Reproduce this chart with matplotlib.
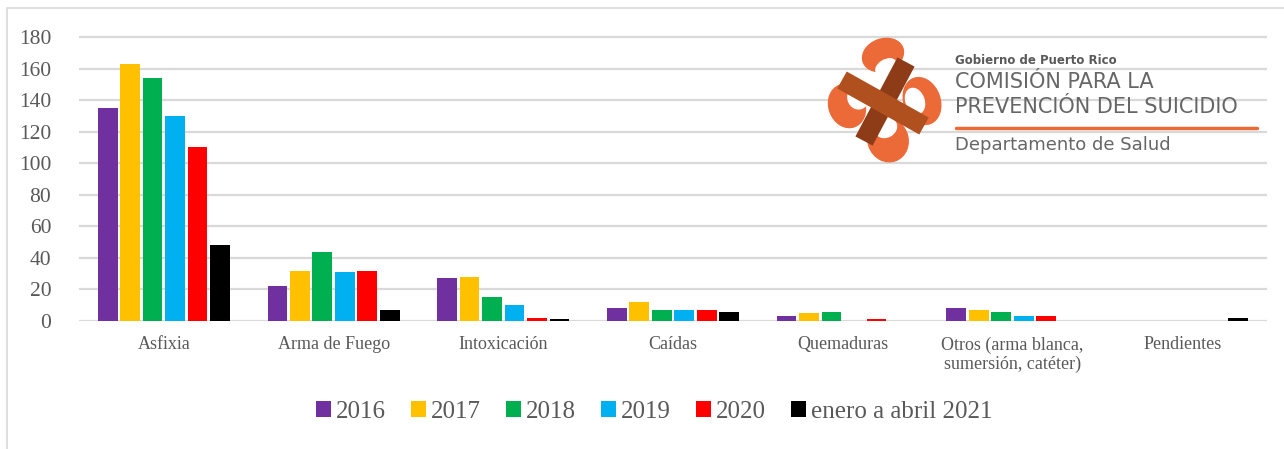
import matplotlib
matplotlib.use("Agg")
import numpy as np
import matplotlib.pyplot as plt
from matplotlib.patches import Ellipse
from matplotlib.lines import Line2D

# datos
categorias = ["Asfixia", "Arma de Fuego", "Intoxicación", "Caídas", "Quemaduras",
              "Otros (arma blanca,\nsumersión, catéter)", "Pendientes"]
series = ["2016", "2017", "2018", "2019", "2020", "enero a abril 2021"]
v2016 = [135, 22, 27, 8, 3, 8, 0]
v2017 = [163, 32, 28, 12, 5, 7, 0]
v2018 = [154, 44, 15, 7, 6, 6, 0]
v2019 = [130, 31, 10, 7, 0, 3, 0]
v2020 = [110, 32, 2, 7, 1, 3, 0]
v2021 = [48, 7, 1, 6, 0, 0, 2]
colores = ["#7030A0", "#FFC000", "#00B050", "#00B0F0", "#FF0000", "#000000"]

W, H = 1284, 449
fig = plt.figure(figsize=(W / 100, H / 100), dpi=100)
fig.patch.set_facecolor("white")

gris = "#595959"
serif = "Liberation Serif"

ax = fig.add_axes([79 / W, (H - 321) / H, 1188 / W, 287.2 / H])
x = np.arange(len(categorias))
paso, ancho = 0.1324, 0.116
for i, (vals, c, nombre) in enumerate(zip([v2016, v2017, v2018, v2019, v2020, v2021], colores, series)):
    ax.bar(x + (i - 2.5) * paso, vals, width=ancho, color=c, label=nombre, zorder=3)

ax.set_xlim(-0.5, 6.5)
ax.set_ylim(0, 182)
ax.set_yticks(range(0, 181, 20))
ax.grid(axis="y", color="#D9D9D9", lw=1.6, zorder=0)
ax.set_axisbelow(True)
for s in ax.spines.values():
    s.set_visible(False)
ax.set_xticks(x)
ax.set_xticklabels(categorias, fontsize=13, family=serif, color=gris, linespacing=1.15, va="top")
ax.tick_params(axis="both", length=0)
ax.tick_params(axis="x", pad=11)
ax.tick_params(axis="y", pad=20)
for t in ax.get_yticklabels():
    t.set_fontsize(15.5)
    t.set_family(serif)
    t.set_color(gris)

leg = ax.legend(loc="center", bbox_to_anchor=(654 / W, 37 / H), bbox_transform=fig.transFigure,
                ncol=6, frameon=False, handlelength=0.6, handleheight=0.6, handletextpad=0.2,
                columnspacing=1.0, prop={"family": serif, "size": 18})
for t in leg.get_texts():
    t.set_color(gris)

# borde del gráfico (solo arriba e izquierda, la imagen está recortada)
fig.lines.append(Line2D([7 / W, 7 / W, 1], [0, (H - 8) / H, (H - 8) / H],
                        transform=fig.transFigure, color="#D9D9D9", lw=1.2))

# logo
lx0, ly0, lw, lh = 820, 30, 450, 140
la = fig.add_axes([lx0 / W, (H - ly0 - lh) / H, lw / W, lh / H])
la.set_xlim(lx0, lx0 + lw)
la.set_ylim(ly0 + lh, ly0)
la.axis("off")
naranja = "#EB6A38"
petalos = [((883, 55), 42, 32, -20), ((922, 101), 36, 48, -20),
           ((888, 140), 40, 44, -20), ((847, 106), 36, 44, -20)]
for (cx, cy), w, h, ang in petalos:
    la.add_patch(Ellipse((cx, cy), w, h, angle=ang, color=naranja, zorder=1))
huecos = [((886, 67), 22, 14, -30), ((915, 101), 18, 26, -20),
          ((886, 128), 22, 18, -30), ((858, 98), 20, 22, -20)]
for (cx, cy), w, h, ang in huecos:
    la.add_patch(Ellipse((cx, cy), w, h, angle=ang, color="white", zorder=2))
la.plot([906, 864], [62, 141], color="#8E3B18", lw=14, solid_capstyle="butt", zorder=3)
la.plot([842, 924], [80, 126], color="#B0501F", lw=14, solid_capstyle="butt", zorder=4)

sans = "DejaVu Sans"
la.text(955, 61, "Gobierno de Puerto Rico", fontsize=8.5, fontweight="bold", family=sans,
        color=gris, va="center", ha="left")
la.text(955, 82, "COMISIÓN PARA LA", fontsize=15, family=sans, color="#666666",
        va="center", ha="left")
la.text(955, 107, "PREVENCIÓN DEL SUICIDIO", fontsize=15, family=sans, color="#666666",
        va="center", ha="left")
la.plot([956, 1257], [128, 128], color=naranja, lw=2.5, solid_capstyle="round")
la.text(955, 145, "Departamento de Salud", fontsize=13, family=sans, color="#666666",
        va="center", ha="left")

fig.savefig("out.png", dpi=100, facecolor="white")
